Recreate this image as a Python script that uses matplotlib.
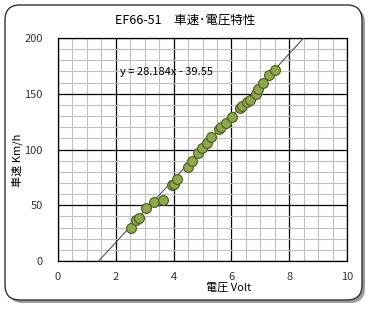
import matplotlib
matplotlib.use("Agg")
import matplotlib.pyplot as plt
import numpy as np
from matplotlib.patches import FancyBboxPatch
from matplotlib.ticker import MultipleLocator

plt.rcParams['font.family'] = ['Noto Sans CJK JP', 'DejaVu Sans']

# 電圧 (Volt) と 車速 (Km/h)
volt = [2.53, 2.70, 2.81, 3.03, 3.33, 3.62, 3.93, 4.03, 4.12, 4.51, 4.63, 4.83,
        4.97, 5.14, 5.29, 5.56, 5.64, 5.81, 6.01, 6.30, 6.36, 6.55, 6.64, 6.84,
        6.93, 7.10, 7.31, 7.51]
speed = [30, 37, 39, 48, 53, 55, 68, 69, 74, 84, 90, 97,
         101, 106, 111, 118, 120, 124, 129, 137, 139, 143, 144, 150,
         154, 160, 167, 171]
slope = 28.184
intercept = -39.55

fig = plt.figure(figsize=(3.73, 3.09), dpi=100)

# rounded frame with shadow
shadow = FancyBboxPatch((0.08, 0.06), 3.57, 2.95, boxstyle="round,pad=0,rounding_size=0.15",
                        transform=fig.dpi_scale_trans, facecolor='#9a9a9a', edgecolor='none',
                        zorder=-2)
frame = FancyBboxPatch((0.05, 0.09), 3.57, 2.95, boxstyle="round,pad=0,rounding_size=0.15",
                       transform=fig.dpi_scale_trans, facecolor='white', edgecolor='#333333',
                       linewidth=1.0, zorder=-1)
fig.patches.extend([shadow, frame])

ax = fig.add_axes([0.1555, 0.155, 0.775, 0.722])
ax.set_xlim(0, 10)
ax.set_ylim(0, 200)
ax.xaxis.set_major_locator(MultipleLocator(2))
ax.xaxis.set_minor_locator(MultipleLocator(0.5))
ax.yaxis.set_major_locator(MultipleLocator(50))
ax.yaxis.set_minor_locator(MultipleLocator(10))
ax.grid(which='minor', color='#c0c0c0', linewidth=0.8)
ax.grid(which='major', color='black', linewidth=0.9)
ax.set_axisbelow(True)
ax.tick_params(which='both', length=0, labelsize=8, colors='#333333')
ax.tick_params(axis='x', pad=8)
ax.tick_params(axis='y', pad=11)
for s in ax.spines.values():
    s.set_color('black')
    s.set_linewidth(0.9)

# trend line
x0 = -intercept / slope
x1 = (200 - intercept) / slope
lx = np.array([x0, x1])
ax.plot(lx, slope * lx + intercept, color='#555555', linewidth=0.8, zorder=3)

ax.scatter(volt, speed, s=50, facecolor='#8fa84c', edgecolor='#4a5a22', linewidth=0.8, zorder=4)

ax.text(2.15, 169.5, 'y = 28.184x - 39.55', fontsize=8, va='center', ha='left')

fig.text(0.497, 0.935, 'EF66-51　車速･電圧特性', fontsize=9, ha='center', va='center')
fig.text(0.047, 0.48, '車速 Km/h', fontsize=8, rotation=90, ha='center', va='center')
fig.text(0.612, 0.068, '電圧 Volt', fontsize=8, ha='center', va='center')

fig.savefig('out.png', dpi=100)
